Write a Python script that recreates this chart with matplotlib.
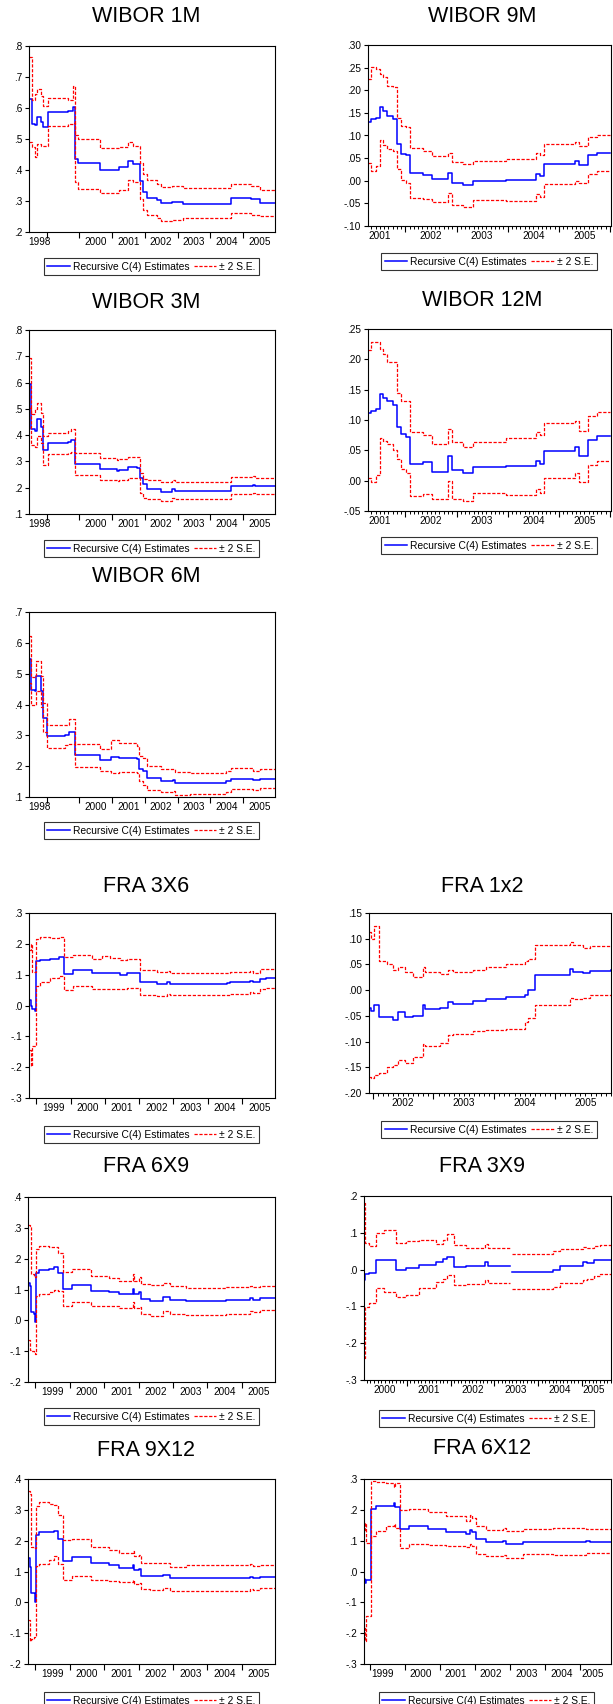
import matplotlib
matplotlib.use("Agg")
import matplotlib.pyplot as plt

plt.rcParams["font.family"] = ["Liberation Sans", "DejaVu Sans"]

W, H = 613, 1704
nan = float("nan")

# ---- WIBOR 1M ----
x_1m = [1998.46, 1998.54, 1998.64, 1998.69, 1998.82, 1998.90, 1999.05, 1999.66, 1999.81, 1999.87,
        1999.97, 2000.63, 2001.21, 2001.49, 2001.65, 2001.85, 2001.93, 2002.08, 2002.36, 2002.51,
        2002.82, 2003.17, 2004.65, 2005.26, 2005.52, 2005.98]
c4_1m = [.628, .550, .545, .572, .555, .540, .586, .590, .602, .437, .422, .399, .410, .429, .420,
         .365, .329, .310, .302, .294, .296, .291, .310, .305, .295, .295]
up_1m = [.765, .625, .645, .660, .640, .606, .632, .626, .670, .512, .500, .471, .475, .491, .478,
         .423, .388, .367, .355, .346, .348, .343, .356, .350, .334, .334]
lo_1m = [.491, .475, .442, .483, .476, .476, .541, .548, .552, .361, .340, .327, .335, .369, .360,
         .305, .270, .254, .245, .236, .240, .244, .262, .256, .253, .253]

# ---- WIBOR 9M ----
x_9m = [2001.27, 2001.32, 2001.42, 2001.50, 2001.57, 2001.65, 2001.75, 2001.83, 2001.92, 2002.01,
        2002.09, 2002.34, 2002.52, 2002.83, 2002.92, 2003.12, 2003.32, 2003.97, 2004.56, 2004.64,
        2004.71, 2005.31, 2005.40, 2005.57, 2005.74, 2006.00]
c4_9m = [.129, .136, .138, .163, .155, .142, .136, .082, .060, .057, .017, .012, .003, .017, -.006,
         -.010, -.001, .002, .015, .010, .037, .043, .035, .056, .061, .061]
up_9m = [.224, .252, .246, .236, .230, .210, .208, .139, .120, .118, .072, .066, .054, .062, .042,
         .036, .043, .047, .062, .057, .081, .085, .077, .096, .100, .100]
lo_9m = [.039, .021, .033, .091, .080, .070, .065, .026, .001, -.006, -.039, -.040, -.047, -.027,
         -.054, -.057, -.043, -.044, -.030, -.036, -.008, .000, -.005, .015, .021, .021]

# ---- WIBOR 3M ----
x_3m = [1998.46, 1998.52, 1998.64, 1998.69, 1998.82, 1998.90, 1999.05, 1999.66, 1999.73, 1999.87,
        2000.63, 2001.14, 2001.21, 2001.49, 2001.75, 2001.85, 2001.93, 2002.08, 2002.51, 2002.82,
        2002.92, 2004.65, 2005.31, 2005.36, 2005.98]
c4_3m = [.593, .422, .415, .460, .430, .343, .369, .375, .382, .290, .271, .265, .268, .278, .275,
         .236, .214, .195, .184, .197, .189, .208, .212, .207, .207]
up_3m = [.695, .480, .500, .521, .486, .398, .407, .415, .425, .331, .314, .306, .308, .315, .315,
         .255, .232, .230, .220, .230, .222, .240, .243, .237, .237]
lo_3m = [.502, .363, .355, .398, .369, .286, .328, .332, .335, .248, .229, .225, .228, .238, .238,
         .179, .160, .158, .149, .160, .157, .176, .178, .177, .177]

# ---- WIBOR 12M ----
x_12m = [2001.27, 2001.32, 2001.42, 2001.50, 2001.57, 2001.65, 2001.75, 2001.83, 2001.92, 2002.01,
         2002.09, 2002.34, 2002.52, 2002.83, 2002.92, 2003.12, 2003.32, 2003.97, 2004.56, 2004.64,
         2004.71, 2005.31, 2005.40, 2005.57, 2005.74, 2006.00]
c4_12m = [.112, .115, .118, .143, .137, .131, .125, .089, .077, .072, .028, .030, .015, .041, .018,
          .012, .022, .025, .033, .028, .049, .055, .041, .067, .073, .073]
up_12m = [.216, .229, .229, .217, .209, .195, .195, .145, .132, .132, .080, .075, .061, .085, .064,
          .056, .064, .070, .080, .075, .095, .098, .082, .107, .113, .113]
lo_12m = [.005, -.003, .010, .070, .066, .060, .050, .035, .020, .012, -.025, -.022, -.030, .000,
          -.030, -.033, -.020, -.024, -.013, -.020, .004, .013, -.002, .026, .033, .033]

# ---- WIBOR 6M ----
x_6m = [1998.46, 1998.52, 1998.64, 1998.67, 1998.82, 1998.90, 1999.00, 1999.56, 1999.69, 1999.87,
        2000.63, 2000.96, 2001.21, 2001.75, 2001.83, 2001.93, 2002.08, 2002.51, 2002.87, 2002.92,
        2003.37, 2004.49, 2004.65, 2005.31, 2005.52, 2005.98]
c4_6m = [.546, .447, .443, .493, .445, .357, .298, .300, .312, .236, .220, .231, .227, .222, .190,
         .183, .161, .151, .155, .144, .145, .152, .159, .155, .160, .160]
up_6m = [.621, .490, .490, .542, .494, .406, .334, .335, .352, .272, .256, .285, .275, .265, .234,
         .225, .201, .190, .190, .181, .178, .185, .194, .185, .190, .190]
lo_6m = [.471, .400, .400, .445, .393, .310, .260, .268, .272, .196, .183, .178, .180, .178, .151,
         .140, .124, .116, .118, .107, .110, .115, .127, .122, .128, .128]

# ---- FRA 3X6 ----
x_3x6 = [1998.79, 1998.84, 1998.89, 1998.97, 1999.00, 1999.11, 1999.40, 1999.65, 1999.82, 2000.08,
         2000.62, 2000.91, 2001.15, 2001.44, 2001.64, 2002.02, 2002.51, 2002.80, 2002.90, 2004.55,
         2004.65, 2005.23, 2005.33, 2005.52, 2005.71, 2005.96]
c4_3x6 = [.017, .000, -.010, -.017, .143, .148, .152, .157, .103, .114, .106, .106, .106, .100, .105,
          .075, .070, .076, .070, .072, .075, .080, .076, .086, .088, .088]
up_3x6 = [.181, .200, .109, .110, .216, .221, .219, .222, .157, .163, .152, .160, .153, .148, .150,
          .116, .110, .112, .104, .106, .108, .112, .107, .117, .120, .120]
lo_3x6 = [-.143, -.197, -.132, -.130, .064, .075, .090, .097, .051, .064, .055, .055, .054, .053,
          .058, .035, .030, .038, .033, .034, .036, .044, .040, .053, .058, .058]

# ---- FRA 1x2 ----
x_1x2 = [2001.94, 2001.98, 2002.03, 2002.10, 2002.23, 2002.34, 2002.42, 2002.53, 2002.66, 2002.83,
         2002.86, 2003.10, 2003.24, 2003.32, 2003.65, 2003.87, 2004.20, 2004.50, 2004.56, 2004.67,
         2005.24, 2005.30, 2005.46, 2005.57, 2005.92]
c4_1x2 = [-.035, -.040, -.028, -.053, -.052, -.058, -.043, -.053, -.050, -.028, -.037, -.035, -.024,
          -.027, -.022, -.018, -.014, -.009, .000, .030, .041, .035, .033, .037, .039]
up_1x2 = [.114, .100, .125, .056, .050, .040, .045, .035, .026, .045, .035, .032, .040, .035, .040,
          .045, .050, .057, .060, .087, .094, .087, .082, .085, .086]
lo_1x2 = [-.168, -.170, -.165, -.161, -.150, -.145, -.135, -.141, -.130, -.104, -.108, -.103, -.087,
          -.085, -.080, -.077, -.075, -.061, -.055, -.028, -.015, -.017, -.015, -.010, -.008]

# ---- FRA 6X9 ----
x_6x9 = [1998.79, 1998.85, 1998.89, 1998.97, 1998.99, 1999.01, 1999.11, 1999.40, 1999.55, 1999.67,
         1999.82, 2000.08, 2000.62, 2001.15, 2001.44, 2001.83, 2001.88, 2002.00, 2002.07, 2002.32,
         2002.70, 2002.90, 2003.38, 2004.55, 2005.23, 2005.33, 2005.52, 2005.96]
c4_6x9 = [.121, .110, .027, .022, -.005, .155, .163, .168, .172, .153, .103, .114, .096, .092, .085,
          .103, .084, .091, .069, .064, .077, .066, .062, .065, .071, .066, .071, .071]
up_6x9 = [.310, .305, .150, .145, .140, .230, .240, .238, .238, .220, .157, .165, .145, .138, .128,
          .150, .128, .142, .118, .113, .120, .110, .106, .108, .112, .108, .112, .112]
lo_6x9 = [-.065, -.095, -.098, -.105, -.110, .078, .085, .093, .100, .095, .048, .060, .048, .047,
          .040, .060, .040, .042, .020, .015, .031, .021, .018, .020, .029, .027, .033, .033]

# ---- FRA 3X9 ----
x_3x9 = [2000.02, 2000.04, 2000.13, 2000.29, 2000.48, 2000.75, 2000.98, 2001.28, 2001.66, 2001.82,
         2001.93, 2002.09, 2002.35, 2002.78, 2002.85, 2003.37, 2003.40, 2004.35, 2004.50, 2005.04,
         2005.11, 2005.27, 2005.42, 2005.67]
c4_3x9 = [-.029, -.013, -.010, .025, .025, .000, .005, .012, .021, .028, .035, .007, .010, .022, .010,
          nan, -.006, .000, .010, .020, .017, .025, .027, .027]
up_3x9 = [.181, .071, .065, .100, .107, .073, .077, .080, .070, .080, .098, .066, .060, .070, .060,
          nan, .042, .050, .055, .062, .058, .065, .068, .068]
lo_3x9 = [-.241, -.101, -.090, -.051, -.060, -.074, -.068, -.051, -.035, -.025, -.015, -.042, -.040,
          -.027, -.037, nan, -.054, -.048, -.037, -.028, -.025, -.018, -.012, -.012]

# ---- FRA 9X12 ----
x_9x12 = list(x_6x9)
c4_9x12 = [.143, .116, .031, .030, .002, .219, .227, .228, .232, .205, .135, .147, .127, .120, .112,
           .122, .105, .108, .087, .085, .088, .078, .078, .078, .083, .079, .082, .082]
up_9x12 = [.360, .350, .181, .176, .175, .313, .324, .318, .315, .284, .201, .205, .181, .170, .159,
           .165, .150, .155, .129, .126, .128, .116, .120, .121, .123, .118, .120, .120]
lo_9x12 = [-.057, -.127, -.120, -.112, -.110, .119, .125, .138, .150, .125, .073, .087, .073, .070,
           .066, .072, .060, .062, .043, .040, .045, .036, .038, .038, .043, .040, .045, .045]

# ---- FRA 6X12 ----
x_6x12 = [1998.84, 1998.87, 1998.91, 1999.05, 1999.17, 1999.46, 1999.70, 1999.72, 1999.87, 2000.12,
          2000.65, 2001.17, 2001.74, 2001.87, 2001.90, 2002.03, 2002.31, 2002.79, 2002.87, 2003.36,
          2004.22, 2005.17, 2005.27, 2005.87]
c4_6x12 = [-.025, -.036, -.028, .203, .211, .213, .222, .209, .138, .148, .138, .129, .122, .135,
           .128, .105, .095, .100, .090, .097, .096, .100, .097, .097]
up_6x12 = [.135, .157, .092, .292, .290, .288, .275, .287, .198, .203, .192, .179, .165, .182, .173,
           .148, .135, .140, .130, .137, .140, .138, .138, .138]
lo_6x12 = [-.184, -.227, -.144, .116, .130, .148, .155, .140, .076, .090, .087, .083, .080, .088,
           .083, .056, .051, .055, .045, .057, .055, .060, .060, .060]

# ---- y ticks ----
yt_1m = [.2, .3, .4, .5, .6, .7, .8]
yt_9m = [-.10, -.05, .00, .05, .10, .15, .20, .25, .30]
yt_3m = [.1, .2, .3, .4, .5, .6, .7, .8]
yt_12m = [-.05, .00, .05, .10, .15, .20, .25]
yt_6m = [.1, .2, .3, .4, .5, .6, .7]
yt_3x6 = [-.3, -.2, -.1, .0, .1, .2, .3]
yt_1x2 = [-.20, -.15, -.10, -.05, .00, .05, .10, .15]
yt_6x9 = [-.2, -.1, .0, .1, .2, .3, .4]
yt_3x9 = [-.3, -.2, -.1, .0, .1, .2]
yt_9x12 = [-.2, -.1, .0, .1, .2, .3, .4]
yt_6x12 = [-.3, -.2, -.1, .0, .1, .2, .3]

# ---- x tick labels (year labels and their centres) ----
yl_wibor_a = ["1998", "2000", "2001", "2002", "2003", "2004", "2005"]
xp_wibor_a = [1998.79, 2000.5, 2001.5, 2002.5, 2003.5, 2004.5, 2005.5]
yl_wibor_b = ["2001", "2002", "2003", "2004", "2005"]
xp_wibor_b = [2001.5, 2002.5, 2003.5, 2004.5, 2005.5]
yl_fra_a = ["1999", "2000", "2001", "2002", "2003", "2004", "2005"]
xp_fra_a = [1999.5, 2000.5, 2001.5, 2002.5, 2003.5, 2004.5, 2005.5]
yl_1x2 = ["2002", "2003", "2004", "2005"]
xp_1x2 = [2002.5, 2003.5, 2004.5, 2005.5]
yl_3x9 = ["2000", "2001", "2002", "2003", "2004", "2005"]
xp_3x9 = [2000.5, 2001.5, 2002.5, 2003.5, 2004.5, 2005.27]
yl_6x12 = ["1999", "2000", "2001", "2002", "2003", "2004", "2005"]
xp_6x12 = [1999.36, 2000.46, 2001.46, 2002.44, 2003.46, 2004.46, 2005.36]


def ev_label(v, dec):
    s = f"{round(v, dec) + 0.0:.{dec}f}"
    if s.startswith("-0."):
        s = "-" + s[2:]
    elif s.startswith("0."):
        s = s[1:]
    return s


# title, data, yticks, decimals, xlim, label pos/txt, monthly ticks,
# axes box (l, t, r, b px), title (x, y px), legend (centre x, top y px)
panels = [
    ("WIBOR 1M", x_1m, c4_1m, up_1m, lo_1m, yt_1m, 1, (1998.46, 2005.98), xp_wibor_a, yl_wibor_a, False,
     (29, 46, 275, 232), (146, 16), (151.5, 258)),
    ("WIBOR 9M", x_9m, c4_9m, up_9m, lo_9m, yt_9m, 2, (2001.27, 2006.02), xp_wibor_b, yl_wibor_b, True,
     (368, 45, 611, 226), (482, 16), (489, 253)),
    ("WIBOR 3M", x_3m, c4_3m, up_3m, lo_3m, yt_3m, 1, (1998.46, 2005.98), xp_wibor_a, yl_wibor_a, False,
     (29, 330, 275, 514), (146, 302), (151.5, 540)),
    ("WIBOR 12M", x_12m, c4_12m, up_12m, lo_12m, yt_12m, 2, (2001.27, 2006.02), xp_wibor_b, yl_wibor_b, True,
     (368, 329, 611, 511), (482, 301), (489, 537)),
    ("WIBOR 6M", x_6m, c4_6m, up_6m, lo_6m, yt_6m, 1, (1998.46, 2005.98), xp_wibor_a, yl_wibor_a, False,
     (29, 612, 275, 797), (146, 576), (151.5, 822)),
    ("FRA 3X6", x_3x6, c4_3x6, up_3x6, lo_3x6, yt_3x6, 1, (1998.79, 2005.96), xp_fra_a, yl_fra_a, False,
     (29, 913, 275, 1098), (146, 886), (151.5, 1126)),
    ("FRA 1x2", x_1x2, c4_1x2, up_1x2, lo_1x2, yt_1x2, 2, (2001.94, 2005.92), xp_1x2, yl_1x2, True,
     (369, 913, 611, 1093), (482, 886), (489, 1121)),
    ("FRA 6X9", x_6x9, c4_6x9, up_6x9, lo_6x9, yt_6x9, 1, (1998.79, 2005.96), xp_fra_a, yl_fra_a, False,
     (28, 1197, 275, 1382), (146, 1167), (151.5, 1408)),
    ("FRA 3X9", x_3x9, c4_3x9, up_3x9, lo_3x9, yt_3x9, 1, (2000.02, 2005.67), xp_3x9, yl_3x9, True,
     (364, 1196, 611, 1380), (482, 1167), (486.5, 1410)),
    ("FRA 9X12", x_9x12, c4_9x12, up_9x12, lo_9x12, yt_9x12, 1, (1998.79, 2005.96), xp_fra_a, yl_fra_a, False,
     (28, 1479, 275, 1664), (146, 1450), (151.5, 1692)),
    ("FRA 6X12", x_6x12, c4_6x12, up_6x12, lo_6x12, yt_6x12, 1, (1998.84, 2005.87), xp_6x12, yl_6x12, False,
     (364, 1479, 611, 1664), (482, 1449), (486.5, 1692)),
]

fig = plt.figure(figsize=(W / 100, H / 100), dpi=100)

for (title, x, c4, up, lo, yt, dec, xl, xp, xlab, monthly, box, tpos, lpos) in panels:
    l, t, r, b = box
    ax = fig.add_axes([l / W, 1 - b / H, (r - l) / W, (b - t) / H])
    h1, = ax.plot(x, c4, color="#0000ff", lw=1.1, drawstyle="steps-post")
    h2, = ax.plot(x, up, color="#ff0000", lw=0.9, ls=(0, (2.6, 1.3)), drawstyle="steps-post")
    ax.plot(x, lo, color="#ff0000", lw=0.9, ls=(0, (2.6, 1.3)), drawstyle="steps-post")

    ax.set_ylim(yt[0], yt[-1])
    ax.set_yticks(yt)
    ax.set_yticklabels([ev_label(v, dec) for v in yt])
    ax.tick_params(axis="y", direction="out", length=3, width=0.8, labelsize=7.2, pad=2)

    ax.set_xlim(xl)
    ax.set_xticks(xp)
    ax.set_xticklabels(xlab)
    ax.tick_params(axis="x", which="major", length=0, pad=3.5, labelsize=7.2)
    years = [yr for yr in range(1998, 2007) if xl[0] < yr < xl[1]]
    ax.set_xticks(years, minor=True)
    ax.tick_params(axis="x", which="minor", direction="out", length=4, width=0.8)
    if monthly:
        sec = ax.secondary_xaxis("bottom")
        months = [yr + m / 12 for yr in range(1998, 2007) for m in range(1, 12)
                  if xl[0] < yr + m / 12 < xl[1]]
        sec.set_xticks(months)
        sec.tick_params(axis="x", direction="out", length=2, width=0.7, labelbottom=False)
        sec.spines["bottom"].set_visible(False)
    for s in ax.spines.values():
        s.set_linewidth(0.8)
        s.set_color("black")

    fig.text(tpos[0] / W, 1 - tpos[1] / H, title, ha="center", va="center", fontsize=15.5)
    leg = fig.legend([h1, h2], ["Recursive C(4) Estimates", "\u00b1 2 S.E."],
                     loc="upper center", bbox_to_anchor=(lpos[0] / W, 1 - lpos[1] / H),
                     ncol=2, fontsize=7.4, frameon=True, fancybox=False, edgecolor="black",
                     handlelength=2.2, handletextpad=0.3, columnspacing=0.4,
                     borderpad=0.35, borderaxespad=0)
    leg.get_frame().set_linewidth(0.8)

fig.savefig("out.png", dpi=100)
